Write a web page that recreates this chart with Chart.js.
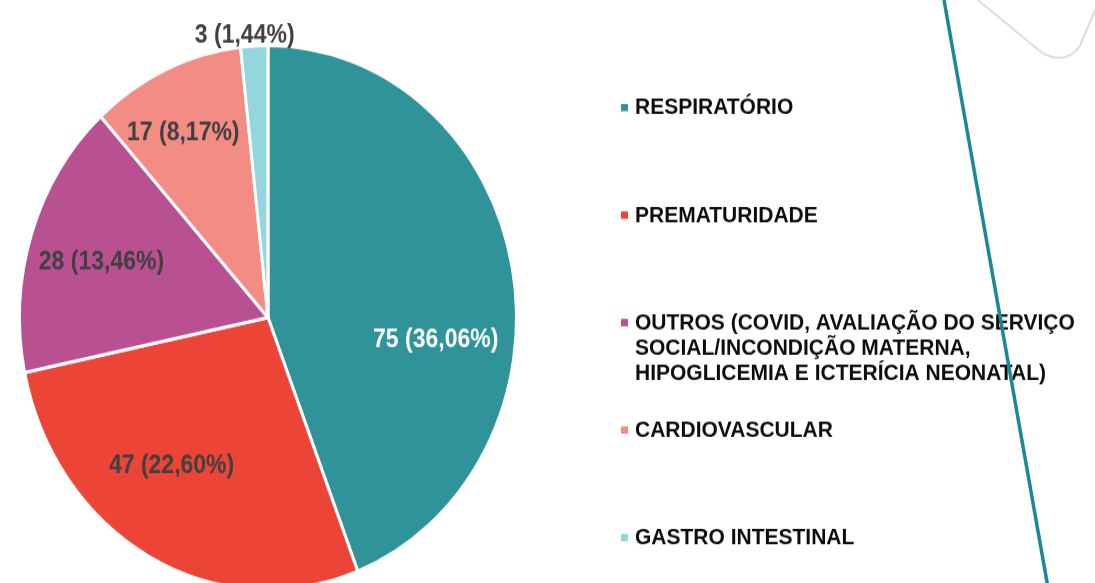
<!DOCTYPE html>
<html lang="pt">
<head>
<meta charset="utf-8">
<script src="https://cdn.jsdelivr.net/npm/chart.js@4/dist/chart.umd.min.js"></script>
<style>
    html, body { margin: 0; padding: 0; background: #fff; overflow: hidden; }
    #wrap { width: 1095px; height: 583px; overflow: hidden; }
    /* the source picture is stretched vertically, so the whole canvas is too */
    #chart { display: block; transform: scale(1, 1.095); transform-origin: 0 0; }
</style>
</head>
<body>
<div id="wrap"><canvas id="chart" width="1095" height="560"></canvas></div>
<script>
// ---- data ----
const categories = [
    'RESPIRATÓRIO',
    'PREMATURIDADE',
    ['OUTROS (COVID, AVALIAÇÃO DO SERVIÇO', 'SOCIAL/INCONDIÇÃO MATERNA,', 'HIPOGLICEMIA E ICTERÍCIA NEONATAL)'],
    'CARDIOVASCULAR',
    'GASTRO INTESTINAL'
];
const counts = [75, 47, 28, 17, 3];
const percentLabels = ['36,06%', '22,60%', '13,46%', '8,17%', '1,44%'];
const sliceColors = ['#31939A', '#EC4537', '#B95091', '#F28C84', '#93D6DD'];

// label placement: [radius fraction, angle shift in degrees], text colour
const labelPlace = [[0.68, 17.6], [0.67, 6.8], [0.70, -1.2], [0.76, -2.3], [1.04, -2.0]];
const labelColors = ['#ffffff', '#404040', '#404040', '#404040', '#404040'];

const S = 1.095; // vertical stretch of the reference

// Data labels: "n (p%)"
const pieLabels = {
    id: 'pieLabels',
    afterDatasetsDraw(chart) {
        const ctx = chart.ctx;
        const meta = chart.getDatasetMeta(0);
        ctx.save();
        ctx.font = "bold 23px 'Liberation Sans', Arial, sans-serif";
        ctx.textAlign = 'center';
        ctx.textBaseline = 'middle';
        meta.data.forEach((arc, i) => {
            const p = arc.getProps(['x', 'y', 'startAngle', 'endAngle', 'outerRadius'], true);
            const mid = (p.startAngle + p.endAngle) / 2 + labelPlace[i][1] * Math.PI / 180;
            const r = p.outerRadius * labelPlace[i][0];
            ctx.fillStyle = labelColors[i];
            ctx.fillText(`${counts[i]} (${percentLabels[i]})`, p.x + Math.cos(mid) * r, p.y + Math.sin(mid) * r);
        });
        ctx.restore();
    }
};

// Legend on the right + decorative strokes
const sideLegend = {
    id: 'sideLegend',
    afterDraw(chart) {
        const ctx = chart.ctx;
        ctx.save();
        ctx.font = "bold 21px 'Liberation Sans', Arial, sans-serif";
        ctx.textBaseline = 'middle';
        const top = 107.5 / S, step = 107.5 / S, lineH = 25.5 / S;
        chart.data.labels.forEach((lab, i) => {
            const lines = Array.isArray(lab) ? lab : [lab];
            const y = top + i * step;
            ctx.fillStyle = sliceColors[i];
            ctx.fillRect(621, y - 3.6 / S, 7, 7.3 / S);
            ctx.fillStyle = '#0d0d0d';
            lines.forEach((t, j) => ctx.fillText(t, 635, y + j * lineH + 0.5));
        });

        // grey rounded stroke, top right
        ctx.strokeStyle = '#dcdcdc';
        ctx.lineWidth = 2;
        ctx.beginPath();
        ctx.moveTo(978, 0);
        ctx.lineTo(1035, 47 / S);
        ctx.bezierCurveTo(1049, 60 / S, 1068, 63 / S, 1080, 46 / S);
        ctx.lineTo(1095, 10 / S);
        ctx.stroke();

        // teal diagonal line
        ctx.strokeStyle = '#1A8896';
        ctx.lineWidth = 3.5;
        ctx.beginPath();
        ctx.moveTo(944, 0);
        ctx.lineTo(944 + 0.177 * 560 * S, 560);
        ctx.stroke();
        ctx.restore();
    }
};

new Chart(document.getElementById('chart'), {
    type: 'pie',
    data: {
        labels: categories,
        datasets: [{
            data: counts,
            backgroundColor: sliceColors,
            borderColor: '#ffffff',
            borderWidth: 3,
            hoverOffset: 0
        }]
    },
    options: {
        responsive: false,
        devicePixelRatio: 1,
        animation: false,
        layout: { padding: { left: 18, right: 577, top: 40, bottom: 20 } },
        plugins: {
            legend: { display: false },
            tooltip: { enabled: false }
        }
    },
    plugins: [pieLabels, sideLegend]
});
</script>
</body>
</html>
